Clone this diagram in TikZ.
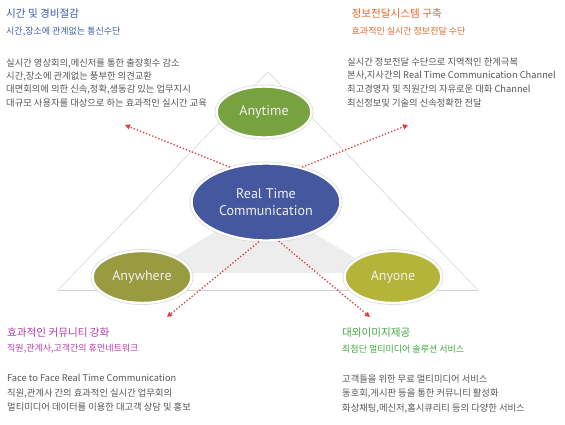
\documentclass[tikz,border=0pt]{standalone}
\usepackage{fontspec}
\setmainfont{PT Sans}
\newfontfamily\kr{Noto Sans CJK KR}
\usetikzlibrary{arrows.meta, shapes.geometric}
\definecolor{timegreen}{HTML}{78A23F}
\definecolor{rtcblue}{HTML}{44579F}
\definecolor{whereolive}{HTML}{989B3F}
\definecolor{oneyellow}{HTML}{B5B43A}
\definecolor{headblue}{HTML}{3B5BA9}
\definecolor{headorange}{HTML}{E2662E}
\definecolor{headpink}{HTML}{B23DA6}
\definecolor{headgreen}{HTML}{3DA63A}
\definecolor{bodygray}{HTML}{555555}
\definecolor{arrowred}{HTML}{E03A3A}
\tikzset{
  bubble/.style={ellipse, draw=white, line width=2.4pt, inner sep=0pt, align=center, text=white!94!black, font=\fontsize{14}{16}\selectfont, preaction={draw=black!15, line width=3.8pt}},
  headline/.style={anchor=base west, inner sep=0pt, font=\kr\fontsize{10.6}{12}\selectfont},
  subline/.style={anchor=base west, inner sep=0pt, font=\kr\fontsize{9}{10}\selectfont},
  bodyline/.style={anchor=base west, inner sep=0pt, text=bodygray, font=\kr\fontsize{9.3}{10}\selectfont},
  link/.style={arrowred, dotted, line width=1.3pt, -{Triangle[length=5pt, width=5pt]}},
  frame/.style={draw=black!16, line width=0.6pt}
}

\begin{document}
\begin{tikzpicture}[x=1pt,y=-1pt]
    \useasboundingbox (0,0) rectangle (565,424);
    % triangle behind the bubbles
    \coordinate (apex) at (268,72);
    \coordinate (baseL) at (58,290);
    \coordinate (baseR) at (478,290);
    \fill[black!7] (235,220) -- (147,273) -- (380,273) -- (292,220) -- cycle;
    \draw[frame] (baseL) -- (apex) -- (baseR);
    \draw[draw=blue!20!black!18, line width=0.6pt] (baseL) -- (baseR);

    \node[bubble, fill=timegreen, minimum width=95pt, minimum height=51pt] (anytime) at (264,112) {Anytime};
    \node[bubble, fill=rtcblue, minimum width=149pt, minimum height=77pt] (rtc) at (266,202) {Real Time\\[1pt]Communication};
    \node[bubble, fill=whereolive, minimum width=99pt, minimum height=52pt] (anywhere) at (142,277) {Anywhere};
    \node[bubble, fill=oneyellow, minimum width=97pt, minimum height=52pt] (anyone) at (393,277) {Anyone};

    \coordinate (tlend) at (125,125);
    \coordinate (trend) at (408,125);
    \coordinate (blend) at (167,317);
    \coordinate (brend) at (370,317);
    \draw[link] (rtc.136) -- (tlend);
    \draw[link] (rtc.44) -- (trend);
    \draw[link] (rtc.-100) -- (blend);
    \draw[link] (rtc.-72) -- (brend);

    % top left
    \node[headline, text=headblue] (tlhead) at (6,17.5) {시간 및 경비절감};
    \node[subline, text=headblue] (tlsub) at (6,34.5) {시간,장소에 관계없는 통신수단};
    \foreach \ln [count=\i] in {{실시간 영상회의,메신저를 통한 출장횟수 감소},{시간,장소에 관계없는 풍부한 의견교환},{대면회의에 의한 신속,정확,생동감 있는 업무지시},{대규모 사용자를 대상으로 하는 효과적인 실시간 교육}}
        \node[bodyline] (tlbody\i) at (6,{52.6+13.4*\i}) {\ln};

    % top right
    \node[headline, text=headorange] (trhead) at (351.5,17.5) {정보전달시스템 구축};
    \node[subline, text=headorange] (trsub) at (351.5,34.5) {효과적인 실시간 정보전달 수단};
    \foreach \ln [count=\i] in {{실시간 정보전달 수단으로 지역적인 한계극복},{본사,지사간의 Real Time Communication Channel},{최고경영자 및 직원간의 자유로운 대화 Channel},{최신정보및 기술의 신속정확한 전달}}
        \node[bodyline] (trbody\i) at (347,{51.6+13.6*\i}) {\ln};

    % bottom left
    \node[headline, text=headpink] (blhead) at (7,336) {효과적인 커뮤니티 강화};
    \node[subline, text=headpink] (blsub) at (7,351.5) {직원,관계사,고객간의 휴먼네트워크};
    \foreach \ln [count=\i] in {{Face to Face Real Time Communication},{직원,관계사 간의 효과적인 실시간 업무회의},{멀티미디어 데이터를 이용한 대고객 상담 및 홍보}}
        \node[bodyline] (blbody\i) at (7,{367.2+14.5*\i}) {\ln};

    % bottom right
    \node[headline, text=headgreen] (brhead) at (342,336) {대외이미지제공};
    \node[subline, text=headgreen] (brsub) at (342,352) {최첨단 멀티미디어 솔루션 서비스};
    \foreach \ln [count=\i] in {{고객들을 위한 무료 멀티미디어 서비스},{동호회,게시판 등을 통한 커뮤니티 활성화},{화상채팅,메신저,홈시큐리티 등의 다양한 서비스}}
        \node[bodyline] (brbody\i) at (342,{367.5+14.5*\i}) {\ln};
\end{tikzpicture}
\end{document}
